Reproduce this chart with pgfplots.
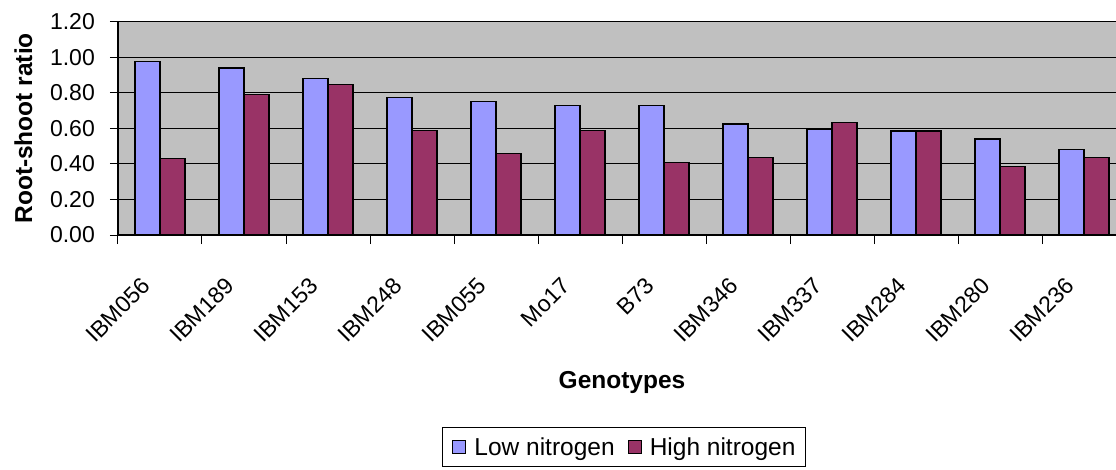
\documentclass[border=0pt]{standalone}
\usepackage{fontspec}
\setmainfont{Liberation Sans}
\usepackage{pgfplots}
\pgfplotsset{compat=1.18}

\definecolor{lowN}{RGB}{153,153,255}
\definecolor{highN}{RGB}{153,51,102}
\definecolor{plotgray}{RGB}{192,192,192}

\begin{document}
\begin{tikzpicture}
% picture frame = reference image (axis box south west at pixel 118,235)
\path[use as bounding box] (-118pt,-234pt) rectangle (998pt,235pt);
\begin{axis}[
    at={(0pt,0pt)}, anchor=south west,
    scale only axis,
    width=1008pt, height=213.3pt,
    ybar=0pt, bar width=25pt,
    xmin=-0.5, xmax=11.5,
    ymin=0, ymax=1.2,
    axis background/.style={fill=plotgray},
    axis lines=left,
    axis line style={-, line width=1.2pt},
    xtick={0,...,11},
    xticklabels={IBM056,IBM189,IBM153,IBM248,IBM055,Mo17,B73,IBM346,IBM337,IBM284,IBM280,IBM236},
    major x tick style={draw=none},
    minor xtick={-0.5,0.5,...,11.5},
    minor x tick style={line width=1pt, black},
    minor tick length=9pt,
    ytick={0,0.2,...,1.2},
    major y tick style={line width=1pt, black},
    major tick length=8pt,
    tick align=outside,
    ymajorgrids,
    major grid style={black, line width=1pt},
    /pgf/number format/assume math mode=true,
    /pgf/number format/fixed,
    /pgf/number format/fixed zerofill,
    /pgf/number format/precision=2,
    tick label style={font=\fontsize{23}{27}\selectfont},
    yticklabel style={anchor=east, inner sep=0pt, xshift=-15pt},
    xticklabel style={xshift=-8pt, rotate=45, anchor=south east, inner sep=0pt},
    xticklabel shift=45pt,
    xlabel={Genotypes},
    ylabel={Root-shoot ratio},
    every axis x label/.style={at={(axis description cs:0.5,-0.69)}, anchor=center,
        font=\fontsize{24.5}{28}\selectfont\bfseries},
    every axis y label/.style={at={(axis description cs:-0.094,0.5)}, rotate=90, anchor=center,
        font=\fontsize{24.5}{28}\selectfont\bfseries},
    legend columns=2,
    legend style={at={(axis description cs:0.3214,-0.900)}, anchor=north west,
        draw=black, line width=1pt, font=\fontsize{24.5}{28}\selectfont,
        inner xsep=10pt, inner ysep=9pt,
        nodes={inner xsep=0pt, inner ysep=1pt},
        /tikz/every odd column/.append style={column sep=8pt},
        /tikz/every even column/.append style={column sep=13pt}},
    legend image code/.code={\draw[#1, draw=black, line width=1pt] (0pt,-6.5pt) rectangle (13pt,6.5pt);},
]
\addplot[fill=lowN, draw=black, line width=1.2pt] coordinates {
    (0,0.975) (1,0.94) (2,0.88) (3,0.775) (4,0.75) (5,0.73)
    (6,0.73) (7,0.625) (8,0.595) (9,0.585) (10,0.54) (11,0.48)};
\addplot[fill=highN, draw=black, line width=1.2pt] coordinates {
    (0,0.43) (1,0.79) (2,0.845) (3,0.59) (4,0.46) (5,0.59)
    (6,0.41) (7,0.435) (8,0.635) (9,0.585) (10,0.385) (11,0.435)};
\legend{Low nitrogen, High nitrogen}
\end{axis}
\end{tikzpicture}
\end{document}
